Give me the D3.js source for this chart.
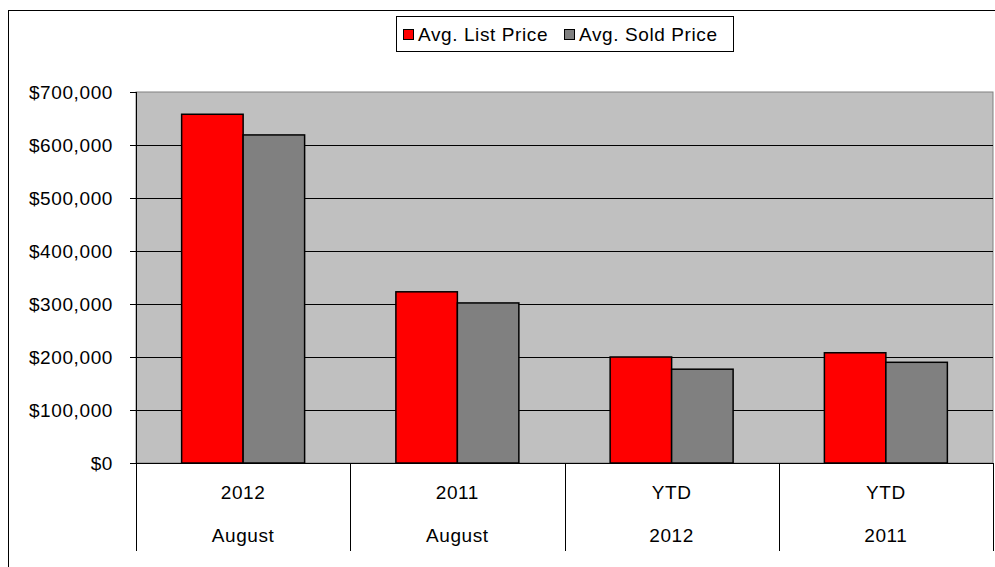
<!DOCTYPE html>
<html>
<head>
<meta charset="utf-8">
<script src="https://cdn.jsdelivr.net/npm/d3@7"></script>
<style>
  body { margin: 0; background: #fff; }
  text { font-family: "Liberation Sans", Arial, sans-serif; font-size: 19px; fill: #000; letter-spacing: 0.6px; }
</style>
</head>
<body>
<div id="chart"></div>
<script>
var topLabels = ["2012", "2011", "YTD", "YTD"];
var bottomLabels = ["August", "August", "2012", "2011"];
var seriesNames = ["Avg. List Price", "Avg. Sold Price"];
var listPrice = [658000, 323000, 200000, 208000];
var soldPrice = [619000, 302000, 177000, 190000];
var yTicks = [0, 100000, 200000, 300000, 400000, 500000, 600000, 700000];
var colors = ["#ff0000", "#808080"];

var W = 995, H = 567;
var plot = {left: 136, right: 993, top: 92, bottom: 463};

var svg = d3.select("#chart").append("svg")
    .attr("width", W)
    .attr("height", H);

// outer frame (only top and left fall inside the picture)
svg.append("rect")
    .attr("x", 8.5).attr("y", 10.5)
    .attr("width", 1000).attr("height", 570)
    .attr("fill", "none").attr("stroke", "#000");

var idx = d3.range(listPrice.length);
var x = d3.scaleBand()
    .domain(idx)
    .range([plot.left, plot.right])
    .paddingInner(0.426)
    .paddingOuter(0.213);
var xs = d3.scaleBand()
    .domain([0, 1])
    .range([0, x.bandwidth()]);
var y = d3.scaleLinear()
    .domain([0, 700000])
    .range([plot.bottom, plot.top]);

svg.append("rect")
    .attr("x", plot.left).attr("y", plot.top)
    .attr("width", plot.right - plot.left).attr("height", plot.bottom - plot.top)
    .attr("fill", "#c0c0c0").attr("stroke", "#808080");

// gridlines
svg.append("g").selectAll("line")
    .data(yTicks.slice(1, -1))
    .enter().append("line")
      .attr("x1", plot.left).attr("x2", plot.right)
      .attr("y1", function (d) { return Math.round(y(d)) + 0.5; })
      .attr("y2", function (d) { return Math.round(y(d)) + 0.5; })
      .attr("stroke", "#000");

// y axis
var yAxis = svg.append("g")
    .attr("transform", "translate(" + plot.left + ",0)")
    .call(d3.axisLeft(y).tickValues(yTicks).tickSize(6).tickPadding(17)
      .tickFormat(function (d) { return "$" + d3.format(",")(d); }));
yAxis.select(".domain").remove();
yAxis.selectAll("text").style("font-size", "19px").attr("font-family", null);
yAxis.selectAll("line").attr("stroke", "#000");

// bars
var series = [listPrice, soldPrice];
series.forEach(function (vals, s) {
  svg.append("g").selectAll("rect")
    .data(vals)
    .enter().append("rect")
      .attr("x", function (d, i) { return x(i) + xs(s); })
      .attr("y", function (d) { return y(d); })
      .attr("width", xs.bandwidth())
      .attr("height", function (d) { return y(0) - y(d); })
      .attr("fill", colors[s])
      .attr("stroke", "#000")
      .attr("stroke-width", 1.5);
});

// category axis line
svg.append("line")
    .attr("x1", plot.left).attr("x2", plot.right)
    .attr("y1", plot.bottom + 0.5).attr("y2", plot.bottom + 0.5)
    .attr("stroke", "#000");

// category separators
var seps = idx.map(function (i) { return x(i) - x.step() * x.paddingOuter(); });
seps.push(plot.right);
svg.append("g").selectAll("line")
    .data(seps)
    .enter().append("line")
      .attr("x1", function (d) { return Math.round(d) + 0.5; })
      .attr("x2", function (d) { return Math.round(d) + 0.5; })
      .attr("y1", function (d, i) { return i == 0 ? plot.top : plot.bottom; })
      .attr("y2", 551)
      .attr("stroke", "#000");

// category labels
svg.append("g").selectAll("text")
    .data(topLabels)
    .enter().append("text")
      .attr("x", function (d, i) { return x(i) + x.bandwidth() / 2; })
      .attr("y", 499)
      .attr("text-anchor", "middle")
      .text(function (d) { return d; });
svg.append("g").selectAll("text")
    .data(bottomLabels)
    .enter().append("text")
      .attr("x", function (d, i) { return x(i) + x.bandwidth() / 2; })
      .attr("y", 542)
      .attr("text-anchor", "middle")
      .text(function (d) { return d; });

// legend
var legend = svg.append("g");
legend.append("rect")
    .attr("x", 396.5).attr("y", 16.5)
    .attr("width", 337).attr("height", 35)
    .attr("fill", "#fff").attr("stroke", "#000");
var legendX = [403, 564];
seriesNames.forEach(function (name, s) {
  legend.append("rect")
      .attr("x", legendX[s] + 0.5).attr("y", 29.5)
      .attr("width", 10).attr("height", 10)
      .attr("fill", colors[s]).attr("stroke", "#000");
  legend.append("text")
      .attr("x", legendX[s] + 15)
      .attr("y", 41)
      .text(name);
});
</script>
</body>
</html>
